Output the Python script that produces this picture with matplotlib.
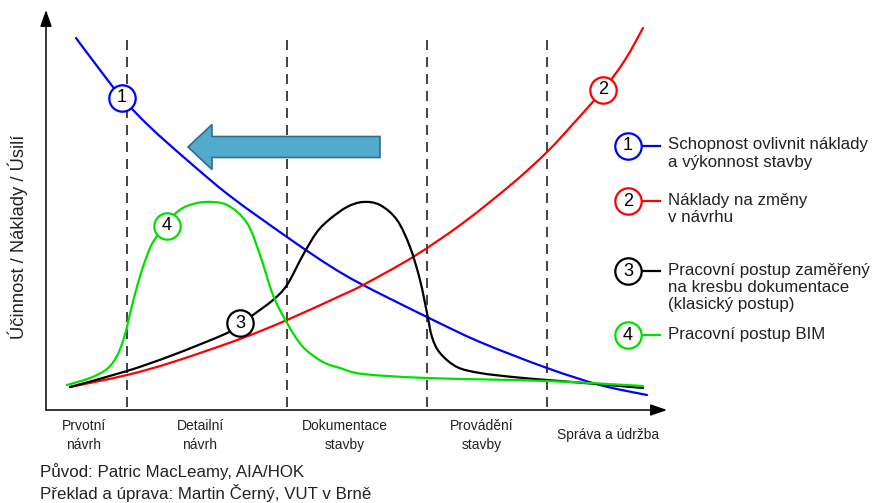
import numpy as np
import matplotlib.pyplot as plt
from matplotlib.patches import FancyArrow, PathPatch
from matplotlib.path import Path

plt.rcParams['font.family'] = ['Liberation Sans', 'DejaVu Sans']

# Project time (x) vs. effect / cost / effort (y)
blue_x = [3.0, 5.4, 7.6, 10.4, 14.1, 18.4, 24.1, 28.4, 31.7, 38.1, 43.4, 50.1, 55.4, 60.1]
blue_y = [37.2, 34.0, 31.2, 28.3, 25.0, 21.4, 17.3, 14.4, 12.5, 9.3, 6.8, 4.2, 2.5, 1.5]

red_x = [2.4, 8.1, 12.7, 19.4, 24.1, 29.4, 31.7, 36.7, 41.7, 46.7, 50.1, 52.7, 55.7, 57.9, 59.7]
red_y = [2.3, 3.5, 4.8, 7.1, 9.0, 11.4, 12.5, 15.3, 18.7, 22.7, 25.8, 28.6, 32.0, 35.0, 38.2]

black_x = [2.4, 8.1, 12.7, 17.9, 19.4, 20.7, 22.7, 24.1, 25.7, 27.1, 28.4, 30.1, 31.7, 33.4,
           35.1, 36.4, 37.4, 38.1, 38.6, 39.4, 41.1, 43.4, 46.7, 50.1, 55.1, 59.7]
black_y = [2.3, 3.9, 5.5, 7.6, 8.5, 9.5, 11.0, 12.5, 15.5, 17.8, 19.1, 20.3, 20.8, 20.5,
           19.0, 16.3, 13.0, 9.7, 7.3, 5.7, 4.3, 3.7, 3.3, 3.0, 2.6, 2.2]

green_x = [2.1, 4.4, 6.1, 7.1, 7.8, 8.3, 8.9, 9.6, 10.4, 11.1, 12.1, 13.0, 14.1, 15.9, 18.1,
           20.1, 21.4, 22.7, 24.1, 25.7, 27.7, 29.4, 31.7, 38.1, 50.1, 59.7]
green_y = [2.5, 3.2, 4.1, 5.4, 7.2, 9.2, 11.6, 14.0, 16.2, 17.4, 18.7, 19.7, 20.4, 20.8, 20.5,
           18.7, 15.5, 11.5, 8.7, 6.3, 4.8, 4.2, 3.6, 3.2, 2.9, 2.4]

colors = ['#0000ff', '#ff0000', '#000000', '#00e000']
numbers = ['1', '2', '3', '4']
marker_x = [7.6, 55.7, 19.4, 12.1]
marker_y = [31.2, 32.0, 8.7, 18.4]

legend_text = ['Schopnost ovlivnit náklady\na výkonnost stavby',
               'Náklady na změny\nv návrhu',
               'Pracovní postup zaměřený\nna kresbu dokumentace\n(klasický postup)',
               'Pracovní postup BIM']
legend_y = [26.4, 20.9, 13.9, 7.5]

phase_edges = [8.1, 24.1, 38.1, 50.1]
phase_labels = ['Prvotní\nnávrh', 'Detailní\nnávrh', 'Dokumentace\nstavby',
                'Provádění\nstavby', 'Správa a údržba']
phase_centers = [3.8, 15.4, 29.9, 43.6, 56.2]


def smooth_path(xs, ys):
    # cubic bezier through the points (Catmull-Rom tangents)
    pts = np.column_stack([xs, ys])
    n = len(pts)
    verts = [pts[0]]
    codes = [Path.MOVETO]
    for i in range(n - 1):
        p0 = pts[i - 1] if i > 0 else pts[i]
        p1 = pts[i]
        p2 = pts[i + 1]
        p3 = pts[i + 2] if i + 2 < n else pts[i + 1]
        verts += [p1 + (p2 - p0) / 6, p2 - (p3 - p1) / 6, p2]
        codes += [Path.CURVE4] * 3
    return Path(verts, codes)


fig = plt.figure(figsize=(8.76, 5.03), dpi=100)
ax = fig.add_axes([0, 0, 1, 1])
ax.set_xlim(-4.6, 83.0)
ax.set_ylim(-9.3, 41.0)
ax.axis('off')

# axes with arrow heads
arr = dict(arrowstyle='-|>,head_length=1.0,head_width=0.35', color='black',
           lw=1.1, shrinkA=0, shrinkB=0)
ax.annotate('', xy=(0, 40.0), xytext=(0, 0), arrowprops=arr)
ax.annotate('', xy=(62.1, 0), xytext=(0, 0), arrowprops=arr)

# phase boundaries
for xe in phase_edges:
    ax.plot([xe, xe], [0.3, 37.7], color='#222222', lw=1.2, dashes=(6, 4.2))

for xc, lab in zip(phase_centers, phase_labels):
    if '\n' in lab:
        ax.text(xc, -0.9, lab, ha='center', va='top', fontsize=10,
                color='#222222', linespacing=1.45)
    else:
        ax.text(xc, -2.5, lab, ha='center', va='center', fontsize=10, color='#222222')

# curves
series = [(blue_x, blue_y), (red_x, red_y), (black_x, black_y), (green_x, green_y)]
for (xs, ys), c in zip(series, colors):
    ax.add_patch(PathPatch(smooth_path(xs, ys), facecolor='none', edgecolor=c,
                           lw=1.6, capstyle='round', joinstyle='round', zorder=3))

# numbered circles on the curves
for xm, ym, c, n in zip(marker_x, marker_y, colors, numbers):
    ax.plot(xm, ym, 'o', ms=19, mfc='white', mec=c, mew=1.6, zorder=4)
    ax.text(xm, ym, n, ha='center', va='center', fontsize=13, zorder=5)

# shift arrow
ax.add_patch(FancyArrow(33.4, 26.3, -19.2, 0, width=2.1, head_width=4.5,
                        head_length=2.4, length_includes_head=True,
                        facecolor='#52aacc', edgecolor='#2f6f8c', lw=1.2, zorder=2))

# legend
for ly, c, n, t in zip(legend_y, colors, numbers, legend_text):
    ax.plot([59.7, 61.4], [ly, ly], color=c, lw=1.6)
    ax.plot(58.2, ly, 'o', ms=19, mfc='white', mec=c, mew=1.6, zorder=4)
    ax.text(58.2, ly, n, ha='center', va='center', fontsize=13, zorder=5)
    ax.text(62.2, ly + 0.85, t, ha='left', va='top', fontsize=12.2,
            color='#222222', linespacing=1.2)

ax.text(-2.8, 17.3, 'Účinnost / Náklady / Úsilí', rotation=90, ha='center',
        va='center', fontsize=13.2, color='#222222')

ax.text(-0.6, -6.2, 'Původ: Patric MacLeamy, AIA/HOK', ha='left', va='center',
        fontsize=12.2, color='#222222')
ax.text(-0.6, -8.3, 'Překlad a úprava: Martin Černý, VUT v Brně', ha='left',
        va='center', fontsize=12.2, color='#222222')

fig.savefig('out.png', dpi=100)
